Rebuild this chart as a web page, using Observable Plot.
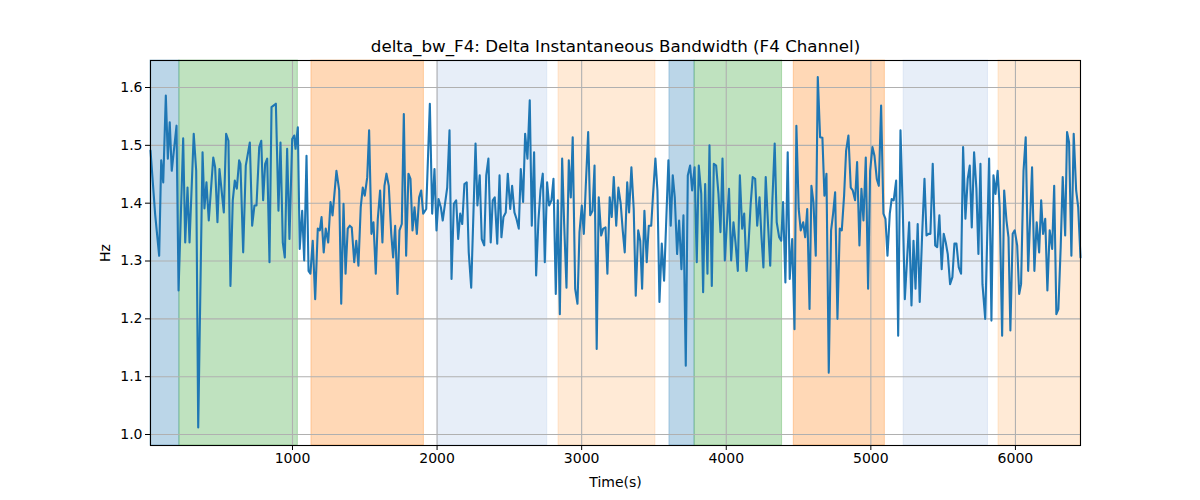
<!DOCTYPE html>
<html>
<head>
<meta charset="utf-8">
<script src="https://cdn.jsdelivr.net/npm/d3@7"></script>
<script src="https://cdn.jsdelivr.net/npm/@observablehq/plot@0.6"></script>
<style>
  body { margin: 0; background: #fff; }
  #chart svg { display: block; }
</style>
</head>
<body>
<div id="chart"></div>
<script>
const chartTitle = "delta_bw_F4: Delta Instantaneous Bandwidth (F4 Channel)";
const xLabel = "Time(s)";
const yLabel = "Hz";
const xTicks = [1000, 2000, 3000, 4000, 5000, 6000];
const yTicks = [1.0, 1.1, 1.2, 1.3, 1.4, 1.5, 1.6];

const times = [18,50,78,92,106,124,138,151,165,198,212,244,258,274,288,317,334,348,378,391,405,421,452,465,481,495,525,541,557,571,587,601,615,631,
640,659,677,705,721,737,751,770,784,797,811,825,841,855,885,903,917,933,947,963,979,998,1012,1021,1037,1050,1067,1081,1097,1111,1124,1140,1157,1175,1189,1201,1216,1230,1247,1263,1277,
1304,1323,1337,1353,1367,1382,1396,1410,1427,1441,1456,1472,1486,1500,1517,1530,1546,1560,1576,1590,1606,1622,1636,1650,1666,1683,1696,1710,1726,1740,1756,1770,1786,1802,1816,1830,1844,1860,1876,1890,1904,
1925,1950,1966,1982,1996,2010,2026,2039,2070,2086,2100,2116,2132,2146,2160,2174,2189,2205,2219,2236,2266,2279,2295,2309,2326,2340,2355,2371,2385,2399,2416,2432,2445,2459,2475,2489,2506,2519,2535,
2549,2565,2579,2595,2609,2625,2641,2655,2671,2685,2701,2715,2731,2745,2761,2775,2791,2805,2821,2835,2849,2865,2879,2895,2911,2925,2938,2955,2971,2985,3001,3015,3028,3045,3059,3075,3089,3104,3118,3135,3149,3165,3178,
3194,3208,3222,3239,3254,3270,3284,3298,3315,3328,3344,3360,3374,3391,3405,3418,3434,3450,3464,3481,3494,3510,3524,3538,3554,3570,3600,3616,3630,3644,3660,3674,3690,3704,3720,3734,3750,3764,3781,3796,3810,
3827,3840,3854,3870,3884,3900,3914,3930,3946,3960,3974,3990,4003,4019,4034,4050,4064,4080,4094,4110,4124,4140,4153,4169,4183,4200,4214,4230,4243,4257,4273,4290,4304,4319,4335,4349,4366,4380,4393,4409,4425,4439,4456,
4472,4485,4501,4515,4532,4546,4560,4576,4589,4603,4619,4633,4649,4665,4679,4693,4709,4725,4739,4753,4769,4785,4799,4815,4829,4845,4861,4875,4891,4905,4921,4935,4949,4965,4981,4995,5011,5025,5041,5055,5071,5087,5101,
5115,5131,5144,5158,5175,5189,5205,5221,5235,5265,5281,5295,5309,5324,5338,5355,5371,5385,5399,5412,5428,5445,5459,5474,5490,5504,5518,5532,5548,5564,5578,5592,5608,5624,5638,5654,5670,5684,5698,5714,5730,
5744,5758,5772,5791,5818,5834,5848,5862,5877,5891,5908,5922,5938,5952,5965,5981,5995,6012,6026,6039,6056,6071,6088,6115,6131,6147,6164,6178,6191,6206,6221,6237,6254,6268,6283,6297,6313,6327,6344,6357,6371,6387,6403,6420,6434,6450];

const values = [1.491,1.381,1.309,1.474,1.436,1.586,1.477,1.540,1.456,1.534,1.249,1.512,1.332,1.427,1.332,1.520,1.456,1.012,1.488,1.391,1.436,1.370,1.479,1.462,1.367,1.459,1.384,1.520,1.508,1.257,1.405,1.439,1.425,1.474,
1.468,1.315,1.465,1.505,1.361,1.396,1.396,1.497,1.508,1.405,1.468,1.477,1.298,1.566,1.572,1.387,1.505,1.332,1.306,1.494,1.338,1.511,1.517,1.494,1.531,1.321,1.387,1.301,1.482,1.283,1.278,1.335,1.234,1.356,1.353,1.376,1.315,1.356,1.332,1.402,1.379,
1.456,1.422,1.226,1.399,1.278,1.356,1.361,1.358,1.298,1.335,1.292,1.393,1.427,1.413,1.445,1.526,1.347,1.367,1.278,1.373,1.422,1.332,1.430,1.451,1.430,1.347,1.306,1.361,1.243,1.353,1.364,1.554,1.309,1.451,1.442,1.353,1.393,1.347,1.410,1.422,1.382,
1.390,1.572,1.382,1.459,1.353,1.407,1.393,1.370,1.427,1.526,1.269,1.399,1.405,1.338,1.382,1.364,1.433,1.436,1.315,1.254,1.503,1.396,1.448,1.338,1.327,1.448,1.477,1.332,1.405,1.410,1.330,1.448,1.341,1.376,1.384,1.451,1.390,1.430,1.384,
1.373,1.356,1.459,1.402,1.520,1.477,1.578,1.361,1.488,1.275,1.370,1.422,1.451,1.298,1.436,1.396,1.405,1.442,1.243,1.405,1.208,1.477,1.364,1.254,1.474,1.410,1.514,1.252,1.226,1.350,1.396,1.347,1.427,1.523,1.379,1.387,1.465,1.148,1.410,1.344,1.356,1.358,1.278,
1.410,1.376,1.445,1.361,1.427,1.399,1.353,1.315,1.436,1.384,1.462,1.390,1.240,1.353,1.335,1.252,1.387,1.298,1.361,1.361,1.416,1.477,1.422,1.229,1.330,1.266,1.474,1.361,1.448,1.410,1.312,1.370,1.286,1.379,1.119,1.448,1.465,1.422,1.462,1.298,1.465,
1.416,1.246,1.433,1.278,1.500,1.257,1.468,1.465,1.416,1.350,1.477,1.301,1.358,1.425,1.301,1.367,1.332,1.283,1.448,1.356,1.382,1.283,1.324,1.399,1.445,1.442,1.361,1.410,1.344,1.289,1.445,1.358,1.292,1.405,1.503,1.367,1.341,1.335,1.402,1.263,1.488,1.269,1.338,
1.182,1.534,1.390,1.353,1.367,1.341,1.390,1.217,1.430,1.402,1.309,1.618,1.514,1.513,1.413,1.451,1.107,1.353,1.382,1.419,1.200,1.356,1.353,1.413,1.491,1.517,1.427,1.422,1.405,1.471,1.327,1.425,1.370,1.479,1.252,1.456,1.497,1.482,1.442,1.430,1.569,1.382,1.373,
1.309,1.382,1.407,1.405,1.439,1.171,1.526,1.387,1.234,1.367,1.223,1.335,1.252,1.364,1.229,1.347,1.442,1.344,1.347,1.347,1.468,1.327,1.324,1.379,1.286,1.347,1.332,1.312,1.260,1.272,1.330,1.330,1.289,1.278,1.497,1.373,1.442,1.465,1.358,1.488,1.425,
1.312,1.468,1.260,1.200,1.477,1.197,1.448,1.416,1.456,1.393,1.171,1.422,1.370,1.341,1.180,1.347,1.353,1.327,1.243,1.260,1.456,1.514,1.283,1.462,1.283,1.367,1.315,1.405,1.347,1.373,1.249,1.353,1.321,1.430,1.208,1.217,1.324,1.445,1.344,1.523,1.505,1.309,1.520,1.422,1.393,1.306];

const spanStart = [18, 218, 1131, 2003, 2840, 3607, 3781, 4467, 5227, 5883];
const spanEnd   = [218, 1037, 1909, 2762, 3510, 3781, 4386, 5097, 5810, 6450];
const spanColor = ["#1f77b4", "#2ca02c", "#ff7f0e", "#aec7e8", "#ffbb78", "#1f77b4", "#2ca02c", "#ff7f0e", "#aec7e8", "#ffbb78"];

const series = times.map((t, i) => ({t, v: values[i]}));
const spans = spanStart.map((s, i) => ({x1: s, x2: spanEnd[i], c: spanColor[i]}));

const chart = Plot.plot({
  width: 1200,
  height: 500,
  marginLeft: 150,
  marginRight: 120,
  marginTop: 60,
  marginBottom: 55,
  style: {fontFamily: "DejaVu Sans, sans-serif", fontSize: "14px", color: "#000", background: "#fff"},
  x: {domain: [18, 6450]},
  y: {domain: [0.981, 1.6467]},
  marks: [
    Plot.rect(spans, {x1: "x1", x2: "x2", fill: "c", fillOpacity: 0.3, stroke: "c", strokeOpacity: 0.3, strokeWidth: 1}),
    Plot.gridX(xTicks, {stroke: "#b0b0b0", strokeOpacity: 1, strokeWidth: 1.1}),
    Plot.gridY(yTicks, {stroke: "#b0b0b0", strokeOpacity: 1, strokeWidth: 1.1}),
    Plot.line(series, {x: "t", y: "v", stroke: "#1f77b4", strokeWidth: 2.1}),
    Plot.frame({stroke: "#000", strokeWidth: 1.1}),
    Plot.axisX(xTicks, {tickSize: 5, tickPadding: 3, fontSize: 14, label: xLabel, labelAnchor: "center", labelOffset: 41, labelArrow: "none", tickFormat: d => String(d)}),
    Plot.axisY(yTicks, {tickSize: 5, tickPadding: 3, fontSize: 14, label: yLabel, labelAnchor: "center", labelOffset: 50, labelArrow: "none", tickFormat: d => d.toFixed(1)}),
    Plot.text([chartTitle], {frameAnchor: "top", lineAnchor: "middle", text: d => d, dy: -14, fontSize: 16.7, fill: "#000"})
  ]
});
document.getElementById("chart").appendChild(chart);
</script>
</body>
</html>
